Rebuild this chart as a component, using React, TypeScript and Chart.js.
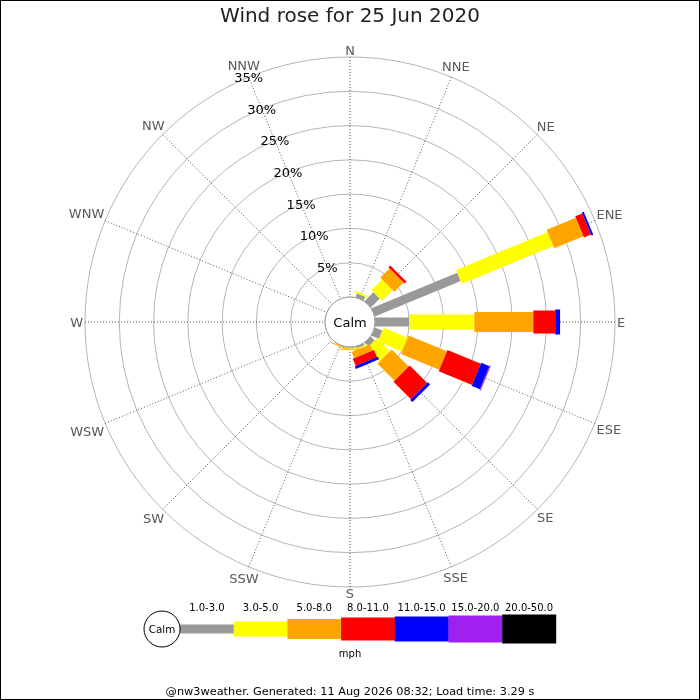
import { useEffect, useRef } from 'react';
import { Chart, registerables } from 'chart.js';

Chart.register(...registerables);

const DIRECTIONS = ['N', 'NNE', 'NE', 'ENE', 'E', 'ESE', 'SE', 'SSE', 'S', 'SSW', 'SW', 'WSW', 'W', 'WNW', 'NW', 'NNW'];
const SPEED_BINS = ['1.0-3.0', '3.0-5.0', '5.0-8.0', '8.0-11.0', '11.0-15.0', '15.0-20.0', '20.0-50.0'];

// % of the day per direction, one array per speed band (mph)
const PCT_1_3 = [0, 0.6, 1.85, 13.56, 4.96, 1.2, 0.8, 0.3, 0.1, 0.05, 0, 0, 0, 0, 0, 0];
const PCT_3_5 = [0, 0.25, 2.2, 14.44, 9.53, 3.8, 2.7, 0.2, 0.15, 0.05, 0, 0, 0, 0, 0, 0];
const PCT_5_8 = [0, 0, 1.9, 4.6, 8.6, 6.05, 3.5, 0.95, 0.1, 0.12, 0, 0, 0, 0, 0, 0];
const PCT_8_11 = [0, 0, 0.4, 1.1, 3.2, 5.27, 3.6, 1.15, 0, 0, 0, 0, 0, 0, 0, 0];
const PCT_11_15 = [0, 0, 0, 0.3, 0.7, 1.3, 0.45, 0.4, 0, 0, 0, 0, 0, 0, 0, 0];
const PCT_15_20 = [0, 0, 0, 0, 0, 0.15, 0, 0, 0, 0, 0, 0, 0, 0, 0, 0];
const PCT_20_50 = [0, 0, 0, 0, 0, 0, 0, 0, 0, 0, 0, 0, 0, 0, 0, 0];
const SERIES = [PCT_1_3, PCT_3_5, PCT_5_8, PCT_8_11, PCT_11_15, PCT_15_20, PCT_20_50];

const RADIAL_TICKS = [0, 5, 10, 15, 20, 25, 30, 35];
const TICK_LABELS = ['', '5%', '10%', '15%', '20%', '25%', '30%', '35%'];

const TITLE = 'Wind rose for 25 Jun 2020';
const FOOTER = '@nw3weather. Generated: 11 Aug 2026 08:32; Load time: 3.29 s';
const CALM_LABEL = 'Calm';
const UNIT_LABEL = 'mph';

// styling
const BIN_COLORS = ['#999999', '#ffff00', '#ffa500', '#ff0000', '#0000ff', '#a020f0', '#000000'];
const BAR_WIDTHS = [9, 15, 20, 23, 25, 27, 29];
const FONT = '"DejaVu Sans", sans-serif';
const CALM_MIN = -3.646; // scale value at the centre, leaves room for the calm circle

const capOffset = (size: number) => size * 0.365;

const windRosePlugin = {
  id: 'windRose',
  afterDatasetsDraw(chart: any) {
    const s = chart.scales.r;
    const ctx = chart.ctx;
    ctx.save();

    // stacked bars
    DIRECTIONS.forEach((_, i) => {
      const angle = s.getIndexAngle(i) - Math.PI / 2;
      let cum = 0;
      chart.data.datasets.forEach((ds: any, k: number) => {
        const v = ds.data[i];
        if (!v) return;
        const r0 = s.getDistanceFromCenterForValue(cum);
        const r1 = s.getDistanceFromCenterForValue(cum + v);
        cum += v;
        const w = BAR_WIDTHS[k];
        ctx.save();
        ctx.translate(s.xCenter, s.yCenter);
        ctx.rotate(angle);
        ctx.fillStyle = ds.backgroundColor;
        ctx.fillRect(r0, -w / 2, Math.max(r1 - r0, 1), w);
        ctx.restore();
      });
    });

    // calm circle
    const rc = s.getDistanceFromCenterForValue(0);
    ctx.beginPath();
    ctx.arc(s.xCenter, s.yCenter, rc, 0, Math.PI * 2);
    ctx.fillStyle = '#ffffff';
    ctx.fill();
    ctx.strokeStyle = '#9a9a9a';
    ctx.lineWidth = 1;
    ctx.stroke();
    ctx.fillStyle = '#000000';
    ctx.font = `13px ${FONT}`;
    ctx.textAlign = 'center';
    ctx.textBaseline = 'alphabetic';
    ctx.fillText(CALM_LABEL, s.xCenter, s.yCenter + capOffset(13));

    // direction labels
    ctx.font = `13px ${FONT}`;
    ctx.fillStyle = '#595959';
    DIRECTIONS.forEach((lab, i) => {
      const a = s.getIndexAngle(i);
      const tw = ctx.measureText(lab).width;
      const d = s.drawingArea + 2 + (tw / 2) * Math.abs(Math.sin(a)) + 4.7 * Math.abs(Math.cos(a));
      const p = s.getPointPosition(i, d);
      ctx.fillText(lab, p.x, p.y + capOffset(13));
    });

    // percentage labels along NNW
    ctx.fillStyle = '#000000';
    s.ticks.forEach((t: any, idx: number) => {
      const lab = TICK_LABELS[idx];
      if (!lab) return;
      const p = s.getPointPosition(DIRECTIONS.length - 1, s.getDistanceFromCenterForValue(t.value));
      ctx.fillText(lab, p.x, p.y + capOffset(13));
    });

    ctx.restore();
  },
  afterDraw(chart: any) {
    const ctx = chart.ctx;
    ctx.save();

    // speed legend
    const cy = 629;
    const left = 180;
    const boxW = 53.7;
    ctx.textAlign = 'center';
    ctx.textBaseline = 'alphabetic';
    chart.data.datasets.forEach((ds: any, k: number) => {
      const x = left + k * boxW;
      const h = BAR_WIDTHS[k];
      ctx.fillStyle = ds.backgroundColor;
      ctx.fillRect(x, cy - h / 2, boxW + 0.3, h);
      ctx.fillStyle = '#000000';
      ctx.font = `10px ${FONT}`;
      ctx.fillText(ds.label, x + boxW / 2, 607 + capOffset(10));
    });
    ctx.beginPath();
    ctx.arc(162, cy, 18, 0, Math.PI * 2);
    ctx.fillStyle = '#ffffff';
    ctx.fill();
    ctx.strokeStyle = '#000000';
    ctx.lineWidth = 1;
    ctx.stroke();
    ctx.fillStyle = '#000000';
    ctx.font = `10.4px ${FONT}`;
    ctx.fillText(CALM_LABEL, 162, cy + capOffset(10.4));
    ctx.font = `10px ${FONT}`;
    ctx.fillText(UNIT_LABEL, 350, 653 + capOffset(10));

    // frame
    ctx.strokeStyle = '#000000';
    ctx.strokeRect(0.5, 0.5, chart.width - 1, chart.height - 1);
    ctx.restore();
  },
};

export default function App() {
  const chartRef = useRef<HTMLCanvasElement>(null);
  const chartInstance = useRef<Chart | null>(null);

  useEffect(() => {
    document.body.style.margin = '0';
    if (!chartRef.current) return;
    const ctx = chartRef.current.getContext('2d');
    if (!ctx) return;
    if (chartInstance.current) chartInstance.current.destroy();

    Chart.defaults.font.family = FONT;

    chartInstance.current = new Chart(ctx, {
      type: 'radar',
      data: {
        labels: DIRECTIONS,
        datasets: SERIES.map((values, k) => ({
          label: SPEED_BINS[k],
          data: values,
          backgroundColor: BIN_COLORS[k],
          borderColor: BIN_COLORS[k],
          borderWidth: 0,
          showLine: false,
          fill: false,
          pointRadius: 0,
          pointHitRadius: 0,
        })),
      },
      options: {
        responsive: true,
        maintainAspectRatio: false,
        animation: false,
        layout: { padding: { left: 85, right: 85, top: 0, bottom: 0 } },
        plugins: {
          legend: { display: false },
          tooltip: { enabled: false },
          title: {
            display: true,
            text: TITLE,
            color: '#222222',
            font: { size: 20, weight: 'normal', family: FONT },
            padding: { top: 5, bottom: 28 },
          },
          subtitle: {
            display: true,
            position: 'bottom',
            text: FOOTER,
            color: '#000000',
            font: { size: 11.3, weight: 'normal', family: FONT },
            padding: { top: 98.44, bottom: 1 },
          },
        },
        scales: {
          r: {
            min: CALM_MIN,
            max: 35,
            startAngle: 0,
            afterBuildTicks: (axis: any) => {
              axis.ticks = RADIAL_TICKS.map((v) => ({ value: v }));
            },
            ticks: { display: false },
            pointLabels: { display: false },
            grid: { color: '#b4b4b4', lineWidth: 1, circular: true },
            angleLines: { color: '#555555', lineWidth: 1, borderDash: [1, 2] },
          },
        },
      },
      plugins: [windRosePlugin],
    } as any);

    return () => {
      if (chartInstance.current) {
        chartInstance.current.destroy();
        chartInstance.current = null;
      }
    };
  }, []);

  return (
    <div style={{ position: 'relative', width: 700, height: 700 }}>
      <canvas ref={chartRef}></canvas>
    </div>
  );
}
